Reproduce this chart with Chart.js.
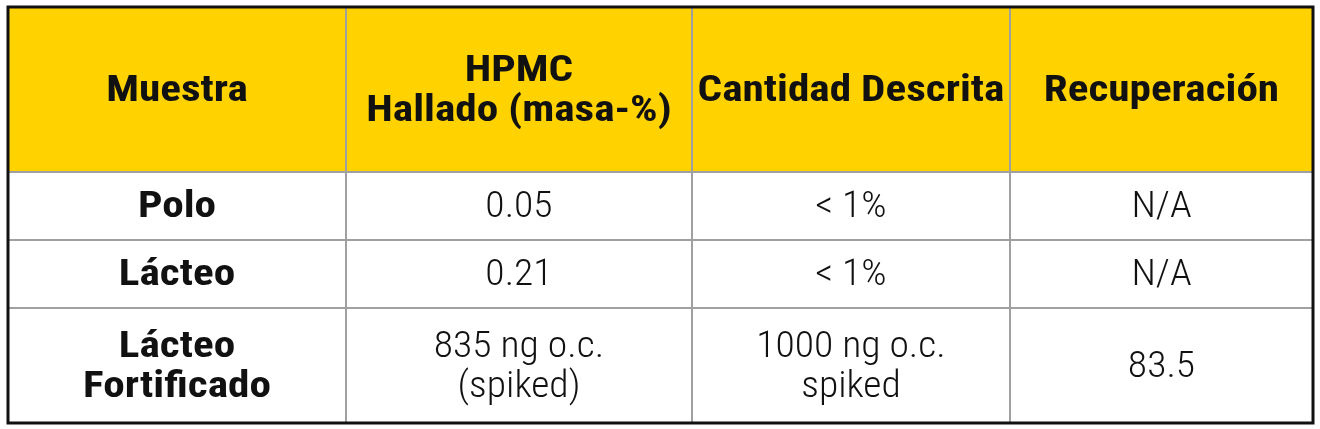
<!DOCTYPE html>
<html><head><meta charset="utf-8">
<script src="https://cdn.jsdelivr.net/npm/chart.js@4"></script>
<style>html,body{margin:0;background:#fff}#wrap{width:1320px;height:429px}</style>
</head><body><div id="wrap"><canvas id="myChart"></canvas></div>
<script>
const headers = [["Muestra"], ["HPMC", "Hallado (masa-%)"], ["Cantidad Descrita"], ["Recuperación"]];
const muestras = [["Polo"], ["Lácteo"], ["Lácteo", "Fortificado"]];
const hallado = [["0.05"], ["0.21"], ["835 ng o.c.", "(spiked)"]];
const descrita = [["< 1%"], ["< 1%"], ["1000 ng o.c.", "spiked"]];
const recuperacion = [["N/A"], ["N/A"], ["83.5"]];

// grid layout (page pixels)
const colEdges = [8, 346, 692, 1010, 1313];
const rowEdges = [7, 172, 240, 308, 423];
const font = '"Liberation Sans Narrow", "Arial Narrow", "Roboto Condensed", "Liberation Sans", sans-serif';

const tablePlugin = {
  id: 'table',
  afterDraw(chart) {
    const ctx = chart.ctx, xs = chart.scales.x, ys = chart.scales.y;
    const X = colEdges.map(v => xs.getPixelForValue(v));
    const Y = rowEdges.map(v => ys.getPixelForValue(v));
    ctx.save();
    ctx.fillStyle = '#FFD200';
    ctx.fillRect(X[0], Y[0], X[4] - X[0], Y[1] - Y[0]);
    ctx.strokeStyle = '#a0a0a0'; ctx.lineWidth = 2;
    for (let i = 1; i < 4; i++) { ctx.beginPath(); ctx.moveTo(X[i], Y[0]); ctx.lineTo(X[i], Y[4]); ctx.stroke(); }
    for (let j = 1; j < 4; j++) { ctx.beginPath(); ctx.moveTo(X[0], Y[j]); ctx.lineTo(X[4], Y[j]); ctx.stroke(); }
    ctx.strokeStyle = '#111'; ctx.lineWidth = 3;
    ctx.strokeRect(X[0], Y[0], X[4] - X[0], Y[4] - Y[0]);
    ctx.textAlign = 'center'; ctx.textBaseline = 'middle'; ctx.fillStyle = '#111';
    const cell = (lines, c, r, bold) => {
      ctx.font = (bold ? 'bold ' : '300 ') + '36px ' + font;
      const cx = (X[c] + X[c + 1]) / 2, cy = (Y[r] + Y[r + 1]) / 2, lh = 40;
      const sx = bold ? 1.2 : 1.1;
      lines.forEach((t, k) => {
        ctx.save();
        ctx.translate(cx, cy + (k - (lines.length - 1) / 2) * lh + 2);
        ctx.scale(sx, 1);
        ctx.fillText(t, 0, 0);
        ctx.restore();
      });
    };
    headers.forEach((h, c) => cell(h, c, 0, true));
    const cols = [muestras, hallado, descrita, recuperacion];
    cols.forEach((col, c) => col.forEach((v, r) => cell(v, c, r + 1, c === 0)));
    ctx.restore();
  }
};

new Chart(document.getElementById('myChart'), {
  type: 'scatter',
  data: { datasets: [{ data: [] }] },
  options: {
    responsive: true, maintainAspectRatio: false, animation: false,
    layout: { padding: 0 },
    plugins: { legend: { display: false }, tooltip: { enabled: false } },
    scales: {
      x: { type: 'linear', min: 0, max: 1320, display: false },
      y: { type: 'linear', min: 0, max: 429, reverse: true, display: false }
    }
  },
  plugins: [tablePlugin]
});
</script></body></html>
